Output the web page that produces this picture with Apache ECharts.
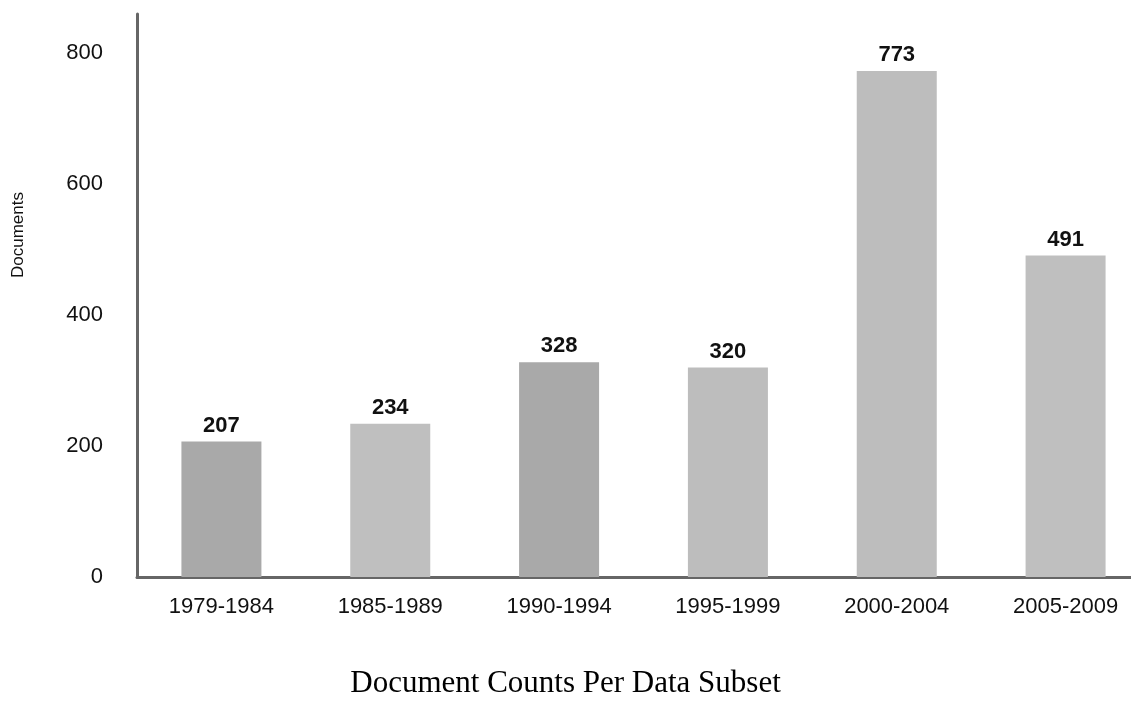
<!DOCTYPE html>
<html>
<head>
<meta charset="utf-8">
<script src="https://cdn.jsdelivr.net/npm/echarts@6/dist/echarts.min.js"></script>
<style>html,body{margin:0;padding:0;background:#fff}#c{width:1131px;height:704px}</style>
</head>
<body>
<div id="c"></div>
<script>
var categories = ['1979-1984','1985-1989','1990-1994','1995-1999','2000-2004','2005-2009'];
var documents = [207, 234, 328, 320, 773, 491];
var barColors = ['#a9a9a9','#bfbfbf','#a9a9a9','#bdbdbd','#bdbdbd','#bfbfbf'];
var yTicks = [0, 200, 400, 600, 800];

var chart = echarts.init(document.getElementById('c'), null, {renderer:'canvas'});
chart.setOption({
  backgroundColor: '#fff',
  animation: false,
  grid: {left: 137, width: 1013, top: 14, bottom: 127, outerBoundsMode: 'none', containLabel: false},
  title: {
    text: 'Document Counts Per Data Subset',
    left: 'center', top: 663,
    textStyle: {fontFamily: 'Liberation Serif', fontSize: 31, fontWeight: 'normal', color: '#000'}
  },
  graphic: [{
    type: 'text', rotation: Math.PI/2, x: 18, y: 235,
    style: {text: 'Documents', fontFamily: 'Liberation Sans', fontSize: 17, fill: '#111', align: 'center', verticalAlign: 'middle'}
  }],
  xAxis: {
    type: 'category', data: categories,
    axisLine: {lineStyle: {color: '#666', width: 3}},
    axisTick: {show: false},
    axisLabel: {fontFamily: 'Liberation Sans', fontSize: 22, color: '#111', margin: 19}
  },
  yAxis: {
    type: 'value', min: 0, max: 860, interval: 200,
    splitLine: {show: false},
    axisLine: {show: true, lineStyle: {color: '#666', width: 3}},
    axisTick: {show: false},
    axisLabel: {fontFamily: 'Liberation Sans', fontSize: 22, color: '#111', margin: 34,
      formatter: function(v){ return yTicks.indexOf(v) >= 0 ? String(v) : ''; }}
  },
  series: [{
    type: 'bar', barWidth: 80,
    data: documents.map(function(v,i){ return {value: v, itemStyle: {color: barColors[i]}}; }),
    label: {show: true, position: 'top', distance: 5, fontFamily: 'Liberation Sans', fontSize: 22, fontWeight: 'bold', color: '#111'}
  }]
});
</script>
</body>
</html>
